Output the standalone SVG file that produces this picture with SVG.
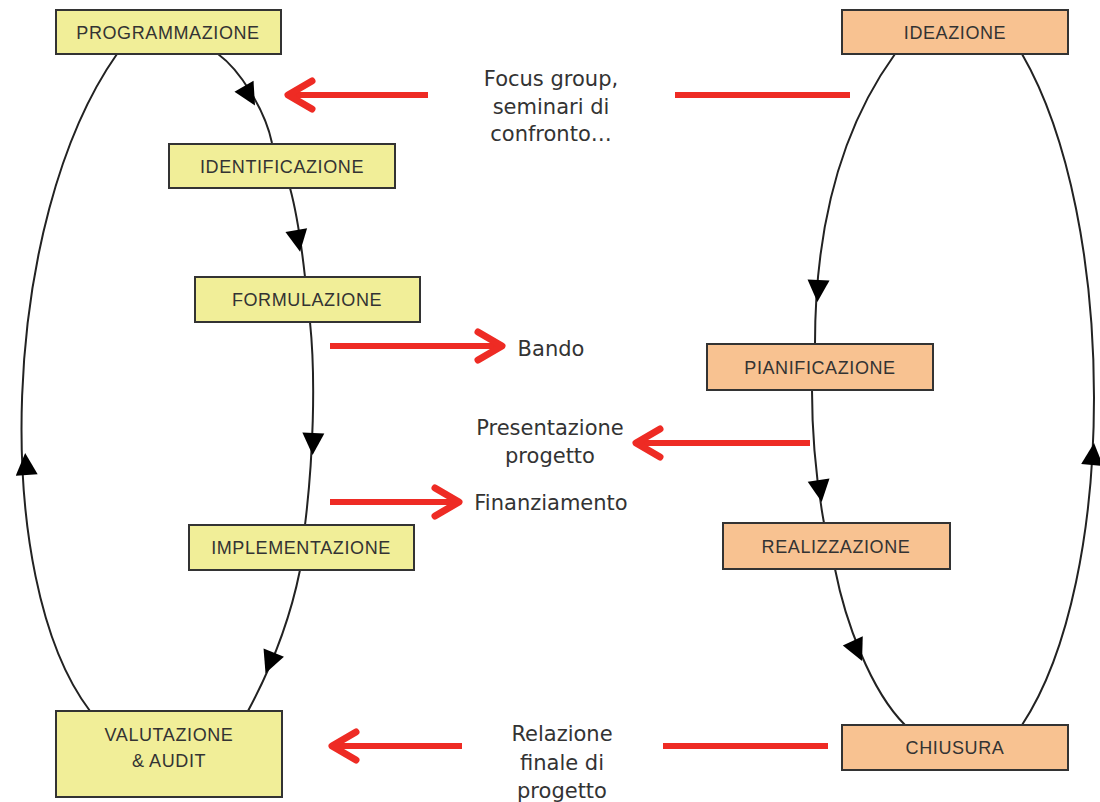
<svg xmlns="http://www.w3.org/2000/svg" width="1100" height="802" viewBox="0 0 1100 802">
<style>
.y{fill:#f1ee98;stroke:#333;stroke-width:2}
.o{fill:#f8c291;stroke:#333;stroke-width:2}
.bl{font-family:"Liberation Sans",Arial,sans-serif;font-size:18px;letter-spacing:0.6px;fill:#333;text-anchor:middle}
.t{font-family:"DejaVu Sans","Liberation Sans",sans-serif;font-size:21px;fill:#333;text-anchor:middle}
.c{fill:none;stroke:#222;stroke-width:2}
.r{fill:none;stroke:#ee2b24;stroke-width:6}
.rh{fill:none;stroke:#ee2b24;stroke-width:7;stroke-linecap:round;stroke-linejoin:round}
</style>
<defs>
<polygon id="tri" points="12,0 -10,-11 -10,11" fill="#000"/>
</defs>
<rect width="1100" height="802" fill="#fff"/>
<g id="connectors">
<path class="c" d="M90,711 C-10,580 0,220 117,54"/>
<path class="c" d="M218,54 C240,70 265,110 272,143"/>
<path class="c" d="M290,188 C296,210 302,250 305,277"/>
<path class="c" d="M310,322 C316,380 313,460 305,525"/>
<path class="c" d="M300,570 C290,620 270,670 248,711"/>
<path class="c" d="M1022,725 C1118,580 1118,220 1022,54"/>
<path class="c" d="M895,54 C840,130 815,230 815,344"/>
<path class="c" d="M812,390 C812,440 818,490 824,523"/>
<path class="c" d="M835,569 C845,620 870,690 905,725"/>
<use href="#tri" transform="translate(249,95) rotate(60)"/>
<use href="#tri" transform="translate(298,240) rotate(80)"/>
<use href="#tri" transform="translate(313,443) rotate(92)"/>
<use href="#tri" transform="translate(270,662) rotate(112)"/>
<use href="#tri" transform="translate(26,465) rotate(-94)"/>
<use href="#tri" transform="translate(818,290) rotate(93)"/>
<use href="#tri" transform="translate(820,490) rotate(82)"/>
<use href="#tri" transform="translate(857,650) rotate(65)"/>
<use href="#tri" transform="translate(1093,455) rotate(-85)"/>
<path class="r" d="M428,95 H292"/>
<path class="rh" d="M312,81 L288,95 L312,109"/>
<path class="r" d="M675,95 H850"/>
<path class="r" d="M330,346 H498"/>
<path class="rh" d="M478,332 L502,346 L478,360"/>
<path class="r" d="M810,443 H640"/>
<path class="rh" d="M660,429 L636,443 L660,457"/>
<path class="r" d="M330,502 H454"/>
<path class="rh" d="M435,488 L459,502 L435,516"/>
<path class="r" d="M462,746 H336"/>
<path class="rh" d="M356,732 L332,746 L356,760"/>
<path class="r" d="M663,746 H828"/>
</g>
<g id="programmazione"><rect class="y" x="56" y="10" width="225" height="44"/><text class="bl" x="168" y="39">PROGRAMMAZIONE</text></g>
<g id="identificazione"><rect class="y" x="169" y="144" width="226" height="44"/><text class="bl" x="282" y="173">IDENTIFICAZIONE</text></g>
<g id="formulazione"><rect class="y" x="195" y="277" width="225" height="45"/><text class="bl" x="307" y="306">FORMULAZIONE</text></g>
<g id="implementazione"><rect class="y" x="189" y="525" width="225" height="45"/><text class="bl" x="301" y="554">IMPLEMENTAZIONE</text></g>
<g id="valutazione"><rect class="y" x="56" y="711" width="226" height="86"/><text class="bl" x="169" y="741">VALUTAZIONE</text><text class="bl" x="169" y="767">&amp; AUDIT</text></g>
<g id="ideazione"><rect class="o" x="842" y="10" width="226" height="44"/><text class="bl" x="955" y="39">IDEAZIONE</text></g>
<g id="pianificazione"><rect class="o" x="707" y="344" width="226" height="46"/><text class="bl" x="820" y="374">PIANIFICAZIONE</text></g>
<g id="realizzazione"><rect class="o" x="723" y="523" width="227" height="46"/><text class="bl" x="836" y="553">REALIZZAZIONE</text></g>
<g id="chiusura"><rect class="o" x="842" y="725" width="226" height="45"/><text class="bl" x="955" y="754">CHIUSURA</text></g>
<g id="labels">
<text class="t" x="551" y="86">Focus group,</text>
<text class="t" x="551" y="114">seminari di</text>
<text class="t" x="551" y="141">confronto…</text>
<text class="t" x="551" y="356">Bando</text>
<text class="t" x="550" y="435">Presentazione</text>
<text class="t" x="550" y="463">progetto</text>
<text class="t" x="551" y="510">Finanziamento</text>
<text class="t" x="562" y="741">Relazione</text>
<text class="t" x="562" y="770">finale di</text>
<text class="t" x="562" y="798">progetto</text>
</g>
</svg>
